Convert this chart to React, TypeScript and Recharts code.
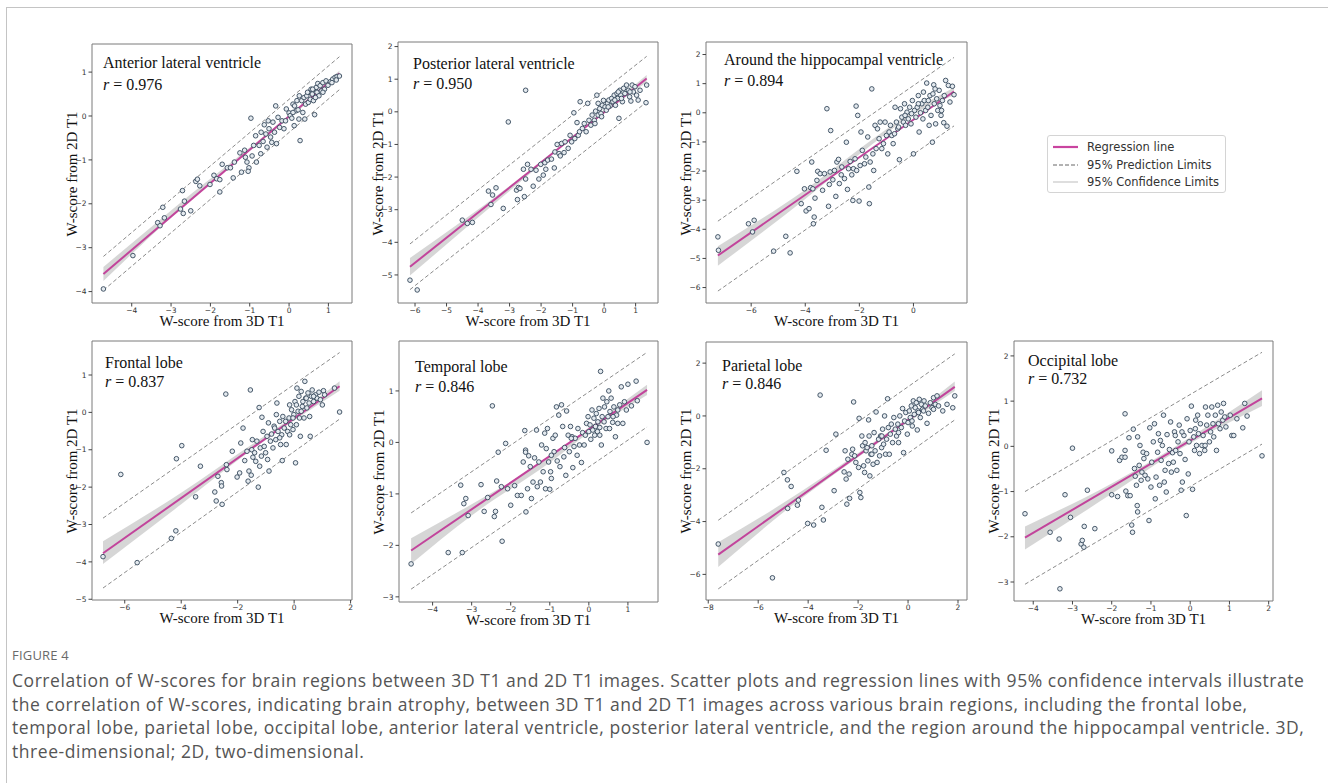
import React from "react";
import {
  ComposedChart,
  Scatter,
  Line,
  Area,
  XAxis,
  YAxis,
  ReferenceArea,
} from "recharts";

type Pt = [number, number];
interface FitRow {
  x: number;
  fit: number;
  lo: number;
  hi: number;
}
interface BandRow {
  x: number;
  band: [number, number];
}

// ---- Anterior lateral ventricle ----
const antPts: Pt[] = [
  [-4.72, -3.94], [-3.97, -3.18], [-3.34, -2.43], [-3.28, -2.5], [-3.17, -2.32], [-3.21, -2.08],
  [-2.76, -2.12], [-2.69, -2.22], [-2.66, -1.94], [-2.5, -2.16], [-2.71, -1.7], [-2.37, -1.49],
  [-2.33, -1.44], [-2.27, -1.59], [-2.01, -1.56], [-1.91, -1.35], [-1.84, -1.43], [-1.76, -1.45],
  [-1.76, -1.73], [-1.7, -1.1], [-1.57, -1.18], [-1.49, -1.18], [-1.42, -1.41], [-1.39, -1.05],
  [-1.25, -0.84], [-1.21, -1.28], [-1.13, -0.78], [-1.11, -0.94], [-1.02, -1.18], [-1.04, -1.26],
  [-1.07, -1.05], [-0.97, -0.05], [-0.94, -0.91], [-0.9, -0.67], [-0.85, -0.45], [-0.83, -1.05],
  [-0.76, -0.67], [-0.72, -0.86], [-0.71, -0.37], [-0.66, -0.58], [-0.63, -0.2], [-0.59, -0.41],
  [-0.56, -0.71], [-0.53, -0.11], [-0.51, -0.29], [-0.47, -0.48], [-0.44, -0.6], [-0.41, -0.14],
  [-0.37, -0.37], [-0.34, 0.23], [-0.32, -0.63], [-0.28, -0.03], [-0.24, -0.26], [-0.18, -0.11],
  [-0.13, -0.29], [-0.07, 0.16], [0.0, 0.07], [0.03, 0.01], [0.07, -0.05], [0.1, 0.27],
  [0.14, 0.23], [0.18, 0.12], [0.2, 0.35], [0.25, -0.07], [0.28, -0.56], [0.32, 0.35],
  [0.35, 0.08], [0.38, 0.42], [0.42, 0.27], [0.45, 0.46], [0.49, 0.31], [0.51, 0.54],
  [0.54, 0.38], [0.56, 0.61], [0.59, 0.5], [0.62, 0.35], [0.65, 0.03], [0.66, 0.61],
  [0.69, 0.65], [0.71, 0.54], [0.73, 0.74], [0.76, 0.46], [0.79, 0.69], [0.82, 0.57],
  [0.86, 0.76], [0.9, 0.61], [0.94, 0.8], [0.99, 0.7], [1.05, 0.78], [1.11, 0.84],
  [1.17, 0.88], [1.22, 0.9], [1.28, 0.91], [1.2, 0.82], [1.09, 0.76], [0.6, 0.61],
  [0.47, 0.54], [0.26, 0.46], [0.1, 0.08], [-0.09, -0.11], [0.23, 0.14], [0.67, 0.42],
  [0.86, 0.54], [0.4, -0.07], [0.13, -0.22],
];
const antFit: FitRow[] = [
  { x: -4.72, fit: -3.6, lo: -3.97, hi: -3.2 },
  { x: 1.28, fit: 0.97, lo: 0.6, hi: 1.35 },
];
const antBand: BandRow[] = [
  { x: -4.72, band: [-3.76, -3.44] },
  { x: -3, band: [-2.31, -2.15] },
  { x: 0, band: [-0.05, 0.02] },
  { x: 1.28, band: [0.91, 1.03] },
];

// ---- Posterior lateral ventricle ----
const postPts: Pt[] = [
  [-6.16, -5.16], [-5.93, -5.46], [-4.5, -3.32], [-4.34, -3.42], [-4.18, -3.39], [-3.59, -2.84],
  [-3.67, -2.43], [-3.54, -2.55], [-3.43, -2.33], [-3.2, -2.96], [-3.04, -0.31], [-2.49, 0.66],
  [-2.78, -2.4], [-2.72, -2.32], [-2.67, -2.35], [-2.75, -2.69], [-2.56, -1.76], [-2.53, -2.6],
  [-2.49, -2.06], [-2.43, -1.61], [-2.32, -1.76], [-2.25, -2.28], [-2.16, -1.79], [-2.07, -2.06],
  [-2.01, -1.61], [-1.93, -1.94], [-1.88, -1.56], [-1.85, -1.76], [-1.79, -1.48], [-1.67, -1.45],
  [-1.58, -1.72], [-1.56, -1.23], [-1.49, -1.0], [-1.43, -1.28], [-1.39, -1.35], [-1.35, -0.97],
  [-1.27, -1.25], [-1.24, -0.92], [-1.14, -1.12], [-1.08, -0.72], [-1.03, -0.92], [-0.96, -0.03],
  [-0.93, -0.82], [-0.86, -0.33], [-0.82, -0.72], [-0.78, -0.61], [-0.76, 0.31], [-0.69, -0.51],
  [-0.63, -0.36], [-0.57, -0.61], [-0.52, 0.26], [-0.48, -0.26], [-0.42, -0.41], [-0.38, -0.1],
  [-0.31, -0.26], [-0.27, 0.02], [-0.23, 0.51], [-0.19, -0.1], [-0.14, 0.1], [-0.1, -0.05],
  [-0.06, 0.2], [-0.02, 0.35], [0.03, 0.15], [0.07, 0.05], [0.11, 0.26], [0.15, 0.36],
  [0.19, 0.18], [0.24, 0.41], [0.28, 0.31], [0.32, 0.51], [0.36, 0.2], [0.41, 0.56],
  [0.43, 0.41], [0.47, -0.2], [0.5, 0.66], [0.53, 0.51], [0.58, 0.31], [0.62, 0.72],
  [0.66, 0.56], [0.71, 0.82], [0.77, 0.66], [0.81, 0.46], [0.85, 0.33], [0.89, 0.82],
  [0.93, 0.61], [0.98, 0.77], [1.03, 0.51], [1.08, 0.36], [1.14, 0.66], [1.35, 0.82],
  [1.33, 0.28], [0.55, 0.41], [0.34, 0.36], [0.13, 0.15], [-0.08, -0.15], [-0.29, -0.36],
  [-0.19, 0.26], [0.45, 0.61], [0.82, 0.61],
];
const postFit: FitRow[] = [
  { x: -6.16, fit: -4.75, lo: -5.45, hi: -4.05 },
  { x: 1.35, fit: 1.02, lo: 0.3, hi: 1.7 },
];
const postBand: BandRow[] = [
  { x: -6.16, band: [-5.02, -4.48] },
  { x: -3, band: [-2.43, -2.27] },
  { x: 0, band: [-0.03, 0.05] },
  { x: 1.35, band: [0.91, 1.13] },
];

// ---- Around the hippocampal ventricle ----
const hipPts: Pt[] = [
  [-7.23, -4.26], [-7.21, -4.72], [-6.1, -3.81], [-5.95, -4.09], [-5.89, -3.69], [-5.17, -4.75],
  [-4.72, -4.24], [-4.56, -4.81], [-4.31, -2.01], [-4.15, -3.12], [-4.03, -2.61], [-3.97, -3.37],
  [-3.86, -3.29], [-3.8, -2.57], [-3.76, -1.69], [-3.72, -2.61], [-3.7, -3.81], [-3.67, -3.58],
  [-3.64, -2.93], [-3.57, -2.32], [-3.54, -2.01], [-3.45, -2.09], [-3.36, -2.66], [-3.29, -2.09],
  [-3.2, 0.14], [-3.14, -3.21], [-3.11, -2.46], [-3.08, -2.03], [-3.06, -0.61], [-2.98, -2.3],
  [-2.92, -1.98], [-2.87, -2.87], [-2.83, -1.69], [-2.77, -1.6], [-2.74, -2.43], [-2.67, -2.13],
  [-2.65, -1.86], [-2.55, -2.26], [-2.48, -1.01], [-2.44, -2.63], [-2.4, -1.92], [-2.34, -1.67],
  [-2.28, -2.13], [-2.24, -3.01], [-2.22, -1.92], [-2.16, -1.58], [-2.12, 0.23], [-2.1, -1.98],
  [-2.06, -0.09], [-2.01, -3.03], [-1.97, -1.81], [-1.94, -0.66], [-1.89, -1.29], [-1.81, -1.75],
  [-1.76, -1.52], [-1.69, -0.83], [-1.65, -2.55], [-1.63, -3.12], [-1.6, -1.69], [-1.54, 0.82],
  [-1.5, -1.41], [-1.47, -1.98], [-1.42, -0.43], [-1.38, -1.23], [-1.33, -0.55], [-1.27, -0.89],
  [-1.23, -0.32], [-1.17, -1.23], [-1.11, -1.06], [-1.05, -0.32], [-1.0, -0.78], [-0.95, -1.41],
  [-0.9, -0.66], [-0.85, -0.43], [-0.8, -0.78], [-0.75, -1.06], [-0.7, -0.72], [-0.68, 0.19],
  [-0.63, -0.32], [-0.58, -0.55], [-0.52, -1.61], [-0.48, 0.14], [-0.43, -0.15], [-0.37, -0.32],
  [-0.33, 0.31], [-0.29, -0.43], [-0.24, 0.02], [-0.19, -0.21], [-0.14, 0.19], [-0.09, -0.38],
  [0.0, -1.41], [-0.04, 0.42], [0.04, 0.08], [0.09, -0.15], [0.14, 0.19], [0.18, 0.59],
  [0.21, -0.66], [0.26, 0.0], [0.31, 0.31], [0.35, -0.21], [0.4, 0.42], [0.45, 0.08],
  [0.49, 1.02], [0.53, 0.19], [0.58, -0.43], [0.61, 0.59], [0.65, -0.09], [0.7, -1.01],
  [0.72, 0.65], [0.75, 0.96], [0.77, 0.31], [0.82, -0.38], [0.86, 0.48], [0.9, 0.08],
  [0.95, 0.77], [0.98, 0.25], [1.02, -0.09], [1.07, 0.42], [1.12, -0.34], [1.14, 0.59],
  [1.19, 1.11], [1.24, -0.46], [1.29, 0.94], [1.35, 0.37], [1.44, 0.91], [1.5, 0.62],
  [0.8, 0.82], [0.55, 0.42], [0.37, 0.71], [0.18, 0.31], [-0.07, -0.03], [-0.31, -0.09],
  [-0.55, -0.49], [1.04, 0.08],
];
const hipFit: FitRow[] = [
  { x: -7.23, fit: -4.9, lo: -6.12, hi: -3.72 },
  { x: 1.5, fit: 0.73, lo: -0.45, hi: 1.9 },
];
const hipBand: BandRow[] = [
  { x: -7.23, band: [-5.25, -4.58] },
  { x: -4, band: [-2.96, -2.64] },
  { x: -1.5, band: [-1.06, -0.9] },
  { x: 0, band: [-0.06, 0.08] },
  { x: 1.5, band: [0.6, 0.87] },
];

// ---- Frontal lobe ----
const froPts: Pt[] = [
  [-6.77, -3.86], [-6.14, -1.66], [-5.56, -4.02], [-4.35, -3.37], [-4.19, -3.17], [-4.17, -1.24],
  [-3.98, -0.89], [-3.49, -2.26], [-3.32, -1.44], [-2.81, -2.13], [-2.76, -2.37], [-2.7, -1.71],
  [-2.58, -1.88], [-2.57, -1.97], [-2.55, -2.46], [-2.42, 0.49], [-2.4, -1.4], [-2.38, -1.53],
  [-2.19, -1.04], [-2.02, -1.73], [-1.93, -1.62], [-1.89, -0.82], [-1.81, -0.42], [-1.75, -1.29],
  [-1.67, -1.04], [-1.63, -1.84], [-1.6, -1.57], [-1.55, 0.6], [-1.52, -1.68], [-1.5, -1.0],
  [-1.48, -0.73], [-1.46, -1.2], [-1.4, -1.08], [-1.36, -1.31], [-1.32, -0.77], [-1.27, -2.0],
  [-1.24, 0.13], [-1.22, -1.44], [-1.2, -0.95], [-1.16, -1.17], [-1.14, -0.13], [-1.1, -0.51],
  [-1.06, -0.91], [-1.01, -1.08], [-0.96, -0.64], [-0.94, -1.26], [-0.91, -0.28], [-0.89, -1.57],
  [-0.84, -0.77], [-0.8, -0.58], [-0.75, -0.95], [-0.71, -0.37], [-0.65, -0.73], [-0.63, -0.06],
  [-0.61, 0.25], [-0.57, -0.51], [-0.51, -0.24], [-0.48, -0.86], [-0.44, -0.6], [-0.42, -1.29],
  [-0.4, -0.11], [-0.35, -0.42], [-0.3, -0.24], [-0.28, -0.86], [-0.23, -0.51], [-0.18, -0.15],
  [-0.16, 0.2], [-0.12, -0.33], [-0.09, 0.07], [-0.04, -0.46], [-0.01, -0.06], [0.03, 0.29],
  [0.05, -1.35], [0.08, -0.33], [0.1, 0.65], [0.14, 0.03], [0.17, 0.43], [0.19, -0.15],
  [0.22, -0.64], [0.25, 0.56], [0.29, 0.16], [0.31, 0.29], [0.35, -0.15], [0.38, 0.83],
  [0.41, 0.38], [0.45, 0.12], [0.49, 0.52], [0.53, 0.25], [0.55, -0.11], [0.57, -0.64],
  [0.61, 0.43], [0.64, 0.6], [0.69, 0.29], [0.76, 0.47], [0.81, 0.38], [0.88, 0.54],
  [0.93, 0.34], [1.0, 0.2], [1.04, 0.58], [1.08, 0.47], [1.43, 0.65], [1.61, 0.01],
  [0.08, 0.2], [0.25, 0.03], [-0.04, -0.15], [0.43, 0.38], [-0.16, -0.6], [-0.51, -0.68],
  [-0.69, -0.42], [0.69, 0.43],
];
const froFit: FitRow[] = [
  { x: -6.77, fit: -3.77, lo: -4.7, hi: -2.83 },
  { x: 1.61, fit: 0.7, lo: -0.18, hi: 1.6 },
];
const froBand: BandRow[] = [
  { x: -6.77, band: [-4.06, -3.45] },
  { x: -4, band: [-2.46, -2.15] },
  { x: -1.5, band: [-1.0, -0.86] },
  { x: 0, band: [-0.22, -0.1] },
  { x: 1.61, band: [0.58, 0.83] },
];

// ---- Temporal lobe ----
const temPts: Pt[] = [
  [-4.55, -2.36], [-3.6, -2.14], [-3.24, -2.14], [-3.28, -0.83], [-3.2, -1.19], [-3.15, -1.09],
  [-3.09, -1.42], [-2.76, -0.82], [-2.68, -1.34], [-2.59, -1.07], [-2.47, 0.71], [-2.42, -1.44],
  [-2.39, -1.34], [-2.36, -0.75], [-2.32, -0.19], [-2.24, -0.86], [-2.22, -1.92], [-2.13, -0.02],
  [-2.08, -0.9], [-2.0, -1.22], [-1.9, -0.84], [-1.83, -1.03], [-1.73, -1.03], [-1.68, -0.38],
  [-1.64, 0.23], [-1.62, -0.15], [-1.62, -0.19], [-1.61, -1.35], [-1.57, -0.9], [-1.54, -0.26],
  [-1.5, -0.47], [-1.47, -1.09], [-1.43, -0.77], [-1.39, -0.3], [-1.34, 0.24], [-1.32, -0.86],
  [-1.28, -0.38], [-1.24, -0.77], [-1.21, -0.05], [-1.17, -0.57], [-1.13, 0.18], [-1.11, -0.9],
  [-1.09, -0.12], [-1.06, 0.27], [-1.03, -0.38], [-1.0, -0.91], [-0.98, -0.57], [-0.96, -0.7],
  [-0.92, 0.08], [-0.89, -0.18], [-0.86, 0.14], [-0.83, 0.69], [-0.81, -0.36], [-0.77, 0.53],
  [-0.74, -0.47], [-0.7, 0.73], [-0.67, 0.31], [-0.64, -0.28], [-0.62, -0.1], [-0.59, -0.64],
  [-0.57, 0.61], [-0.53, 0.14], [-0.5, -0.18], [-0.47, 0.31], [-0.43, 0.11], [-0.41, -0.49],
  [-0.38, -0.08], [-0.35, 0.08], [-0.3, -0.25], [-0.28, 0.27], [-0.24, -0.05], [-0.19, -0.39],
  [-0.16, 0.19], [-0.12, -0.05], [-0.09, 0.14], [-0.06, 0.37], [-0.02, 0.5], [0.0, 0.21],
  [0.03, 0.34], [0.05, 0.06], [0.08, 0.63], [0.1, 0.24], [0.13, 0.47], [0.17, 0.31],
  [0.19, 0.56], [0.22, 0.21], [0.23, 0.4], [0.26, 0.66], [0.28, 0.29], [0.3, 1.38],
  [0.32, -0.05], [0.34, 0.5], [0.36, 0.86], [0.39, 0.4], [0.4, 0.69], [0.44, 0.27],
  [0.46, 0.79], [0.49, 0.5], [0.51, 1.0], [0.54, 0.6], [0.57, 0.86], [0.61, 0.39],
  [0.64, 0.69], [0.68, 0.11], [0.71, 0.53], [0.74, 0.37], [0.79, 0.73], [0.83, 1.08],
  [0.87, 0.37], [0.91, 0.79], [0.96, 0.63], [1.0, 1.13], [1.09, 0.71], [1.21, 1.19],
  [1.24, 0.81], [1.49, 0.0], [0.74, 0.63], [0.53, 0.27], [0.15, 0.14], [0.28, 0.14],
  [0.62, 0.5], [-0.96, -0.25], [-0.45, 0.08],
];
const temFit: FitRow[] = [
  { x: -4.55, fit: -2.1, lo: -2.85, hi: -1.37 },
  { x: 1.49, fit: 1.02, lo: 0.3, hi: 1.75 },
];
const temBand: BandRow[] = [
  { x: -4.55, band: [-2.36, -1.86] },
  { x: -3, band: [-1.42, -1.2] },
  { x: -1, band: [-0.39, -0.28] },
  { x: 0, band: [0.19, 0.29] },
  { x: 1.49, band: [0.92, 1.12] },
];

// ---- Parietal lobe ----
const parPts: Pt[] = [
  [-7.6, -4.85], [-5.43, -6.13], [-4.97, -2.14], [-4.83, -2.42], [-4.82, -3.5], [-4.68, -2.67],
  [-4.43, -3.38], [-4.39, -3.19], [-4.02, -4.07], [-3.78, -4.13], [-3.52, 0.79], [-3.45, -3.46],
  [-3.39, -3.94], [-3.28, -1.3], [-2.96, -2.83], [-2.89, -0.69], [-2.56, -2.12], [-2.52, -1.32],
  [-2.48, -2.39], [-2.45, -3.34], [-2.41, -1.64], [-2.36, -2.2], [-2.34, -3.12], [-2.25, -1.45],
  [-2.22, -1.26], [-2.18, 0.53], [-2.14, -1.51], [-2.09, -1.76], [-1.98, -1.95], [-1.96, -0.09],
  [-1.93, -2.9], [-1.89, -3.09], [-1.85, -0.76], [-1.82, -1.13], [-1.78, -1.89], [-1.74, -2.14],
  [-1.72, -1.01], [-1.68, -1.32], [-1.64, -1.2], [-1.61, -1.7], [-1.58, -0.15], [-1.56, -0.76],
  [-1.53, -2.27], [-1.49, -1.45], [-1.45, -1.13], [-1.4, -1.83], [-1.36, -0.63], [-1.32, -1.32],
  [-1.28, 0.15], [-1.24, -1.76], [-1.18, -0.88], [-1.14, -1.51], [-1.1, -0.76], [-1.06, -1.2],
  [-1.02, -0.5], [-0.98, -1.07], [-0.94, 0.0], [-0.9, -1.45], [-0.86, -0.88], [-0.82, 0.65],
  [-0.79, -0.44], [-0.75, -1.45], [-0.71, -0.69], [-0.67, -0.31], [-0.62, -1.01], [-0.57, -0.06],
  [-0.51, -0.5], [-0.46, -0.76], [-0.41, -0.31], [-0.38, -1.01], [-0.33, 0.0], [-0.27, -0.44],
  [-0.22, 0.28], [-0.18, -1.39], [-0.14, -0.19], [-0.09, 0.13], [-0.03, -0.69], [0.0, -0.25],
  [0.05, 0.19], [0.09, -0.06], [0.13, 0.38], [0.17, -0.38], [0.21, 0.57], [0.25, 0.06],
  [0.29, 0.31], [0.33, 0.5], [0.37, -0.53], [0.4, 0.19], [0.45, 0.63], [0.49, -0.06],
  [0.53, 0.44], [0.58, 0.25], [0.64, 0.57], [0.69, 0.38], [0.76, -0.28], [0.82, 0.1],
  [0.89, 0.5], [0.96, 0.31], [1.02, 0.69], [1.09, 0.44], [1.16, 0.76], [1.22, 0.38],
  [1.39, 0.19], [1.56, 0.44], [1.79, 0.31], [1.87, 0.76], [0.42, 0.13], [0.16, -0.19],
  [0.62, 0.19], [-0.38, -0.63], [-1.05, -0.76], [-1.45, -1.45], [1.02, 0.25],
];
const parFit: FitRow[] = [
  { x: -7.6, fit: -5.25, lo: -6.55, hi: -3.95 },
  { x: 1.87, fit: 1.1, lo: -0.15, hi: 2.35 },
];
const parBand: BandRow[] = [
  { x: -7.6, band: [-5.72, -4.78] },
  { x: -5, band: [-3.66, -3.3] },
  { x: -2, band: [-1.56, -1.4] },
  { x: 0, band: [-0.25, -0.07] },
  { x: 1.87, band: [0.94, 1.3] },
];

// ---- Occipital lobe ----
const occPts: Pt[] = [
  [-4.21, -1.49], [-3.57, -1.9], [-3.32, -3.15], [-3.34, -2.05], [-3.19, -1.07], [-3.05, -1.57],
  [-3.0, -0.04], [-2.78, -2.16], [-2.75, -2.08], [-2.71, -2.23], [-2.7, -1.77], [-2.62, -0.97],
  [-2.43, -1.82], [-2.0, -0.1], [-2.0, -1.07], [-1.85, -1.11], [-1.8, -0.31], [-1.74, -0.24],
  [-1.66, 0.72], [-1.66, -0.09], [-1.66, -0.24], [-1.64, -0.99], [-1.59, -1.09], [-1.56, 0.19],
  [-1.53, -1.09], [-1.49, -1.74], [-1.47, -1.9], [-1.45, 0.38], [-1.42, -0.49], [-1.4, -0.66],
  [-1.37, -0.86], [-1.35, -1.31], [-1.34, -1.45], [-1.34, 0.21], [-1.3, -0.42], [-1.28, 0.02],
  [-1.25, -0.75], [-1.23, -0.57], [-1.2, -0.13], [-1.18, -0.27], [-1.15, -0.64], [-1.11, -0.16],
  [-1.08, -0.72], [-1.05, -1.64], [-1.03, 0.41], [-1.0, -0.9], [-0.98, -0.35], [-0.94, 0.1],
  [-0.91, 0.5], [-0.89, -1.16], [-0.87, -0.68], [-0.83, -0.13], [-0.81, 0.28], [-0.78, -0.86],
  [-0.76, 0.13], [-0.74, -0.31], [-0.71, 0.02], [-0.68, 0.69], [-0.66, -0.79], [-0.64, -0.53],
  [-0.61, -1.01], [-0.59, 0.26], [-0.55, -0.38], [-0.53, -0.07], [-0.5, 0.54], [-0.48, -0.57],
  [-0.45, -0.14], [-0.43, -0.35], [-0.4, 0.32], [-0.37, -0.09], [-0.34, -0.53], [-0.31, 0.1],
  [-0.28, 0.47], [-0.26, -0.16], [-0.23, -0.97], [-0.2, -0.79], [-0.16, 0.24], [-0.13, -0.29],
  [-0.1, -1.53], [-0.08, 0.61], [-0.05, -0.61], [-0.03, 0.1], [0.0, 0.35], [0.03, 0.89],
  [0.06, -0.95], [0.09, 0.21], [0.11, -0.09], [0.14, 0.58], [0.16, 0.02], [0.19, 0.69],
  [0.21, 0.28], [0.24, -0.16], [0.26, 0.5], [0.3, 0.02], [0.33, 0.24], [0.37, -0.09],
  [0.39, 0.87], [0.42, 0.47], [0.45, 0.69], [0.49, 0.1], [0.52, 0.32], [0.55, 0.87],
  [0.58, 0.5], [0.6, 0.21], [0.64, 0.69], [0.67, -0.09], [0.7, 0.91], [0.72, 0.5],
  [0.76, 0.39], [0.79, 0.76], [0.83, 0.58], [0.85, 0.95], [0.88, 0.65], [0.91, 0.43],
  [1.02, 0.69], [1.06, 0.24], [1.19, 0.61], [1.34, 0.41], [1.39, 0.95], [1.45, 0.67],
  [1.83, -0.21], [1.11, 0.24], [0.38, 0.02], [0.13, 0.39], [-0.38, 0.24], [-0.21, 0.32],
];
const occFit: FitRow[] = [
  { x: -4.21, fit: -2.02, lo: -3.05, hi: -1.0 },
  { x: 1.83, fit: 1.06, lo: 0.05, hi: 2.08 },
];
const occBand: BandRow[] = [
  { x: -4.21, band: [-2.28, -1.77] },
  { x: -2, band: [-1.05, -0.82] },
  { x: -0.5, band: [-0.19, -0.07] },
  { x: 1.83, band: [0.89, 1.24] },
];

const YW = 24;
const XH = 14;
const serif = "'Liberation Serif', 'Times New Roman', serif";
const sans = "'DejaVu Sans', sans-serif";

const fmt = (v: number) => (v < 0 ? `\u2212${-v}` : `${v}`);

const merge = (fit: FitRow[], band: BandRow[]) => {
  const rows = new Map<number, any>();
  [...band, ...fit].forEach((r) => rows.set(r.x, { ...(rows.get(r.x) || {}), ...r }));
  return [...rows.values()].sort((a, b) => a.x - b.x);
};

const Ring = (p: any) => (
  <circle cx={p.cx} cy={p.cy} r={2.3} fill="#e4eaef" stroke="#34475a" strokeWidth={0.9} />
);

interface PanelCfg {
  left: number;
  top: number;
  w: number;
  h: number;
  xDom: [number, number];
  yDom: [number, number];
  xTicks: number[];
  yTicks: number[];
  pts: Pt[];
  fit: FitRow[];
  band: BandRow[];
  title: string;
  r: string;
  tx: number;
  ty: number;
  ry: number;
}

const panels: PanelCfg[] = [
  {
    left: 92, top: 44, w: 260, h: 259, xDom: [-5.01, 1.6], yDom: [-4.26, 1.64],
    xTicks: [-4, -3, -2, -1, 0, 1], yTicks: [-4, -3, -2, -1, 0, 1],
    pts: antPts, fit: antFit, band: antBand,
    title: "Anterior lateral ventricle", r: "0.976", tx: 11, ty: 19, ry: 41,
  },
  {
    left: 398, top: 42, w: 260, h: 261, xDom: [-6.54, 1.71], yDom: [-5.86, 2.14],
    xTicks: [-6, -5, -4, -3, -2, -1, 0, 1], yTicks: [-5, -4, -3, -2, -1, 0, 1, 2],
    pts: postPts, fit: postFit, band: postBand,
    title: "Posterior lateral ventricle", r: "0.950", tx: 15, ty: 22, ry: 42,
  },
  {
    left: 706, top: 42, w: 261, h: 261, xDom: [-7.67, 1.98], yDom: [-6.53, 2.43],
    xTicks: [-6, -4, -2, 0], yTicks: [-6, -5, -4, -3, -2, -1, 0, 1, 2],
    pts: hipPts, fit: hipFit, band: hipBand,
    title: "Around the hippocampal ventricle", r: "0.894", tx: 18, ty: 18, ry: 39,
  },
  {
    left: 92, top: 341, w: 260, h: 259, xDom: [-7.16, 2.05], yDom: [-5.02, 1.91],
    xTicks: [-6, -4, -2, 0, 2], yTicks: [-5, -4, -3, -2, -1, 0, 1],
    pts: froPts, fit: froFit, band: froBand,
    title: "Frontal lobe", r: "0.837", tx: 13, ty: 22, ry: 41,
  },
  {
    left: 399, top: 341, w: 259, h: 261, xDom: [-4.86, 1.77], yDom: [-3.1, 1.97],
    xTicks: [-4, -3, -2, -1, 0, 1], yTicks: [-3, -2, -1, 0, 1],
    pts: temPts, fit: temFit, band: temBand,
    title: "Temporal lobe", r: "0.846", tx: 16, ty: 26, ry: 46,
  },
  {
    left: 706, top: 342, w: 261, h: 258, xDom: [-8.09, 2.36], yDom: [-6.97, 2.8],
    xTicks: [-8, -6, -4, -2, 0, 2], yTicks: [-6, -4, -2, 0, 2],
    pts: parPts, fit: parFit, band: parBand,
    title: "Parietal lobe", r: "0.846", tx: 16, ty: 24, ry: 42,
  },
  {
    left: 1014, top: 341, w: 259, h: 260, xDom: [-4.49, 2.11], yDom: [-3.42, 2.33],
    xTicks: [-4, -3, -2, -1, 0, 1, 2], yTicks: [-3, -2, -1, 0, 1, 2],
    pts: occPts, fit: occFit, band: occBand,
    title: "Occipital lobe", r: "0.732", tx: 14, ty: 20, ry: 38,
  },
];

function Panel({ c }: { c: PanelCfg }) {
  const data = merge(c.fit, c.band);
  const dots = c.pts.map(([x, y]) => ({ x, y }));
  const tick = { fontSize: 7.5, fill: "#333", fontFamily: sans };
  return (
    <>
      <div style={{ position: "absolute", left: c.left - YW, top: c.top - 1 }}>
        <ComposedChart
          width={c.w + YW + 1}
          height={c.h + XH + 1}
          data={data}
          margin={{ top: 1, right: 1, left: 0, bottom: 0 }}
        >
          <XAxis
            type="number"
            dataKey="x"
            domain={c.xDom}
            ticks={c.xTicks}
            allowDataOverflow
            interval={0}
            height={XH}
            axisLine={false}
            tickLine={{ stroke: "#444" }}
            tickSize={3.5}
            tickMargin={1}
            tick={tick}
            tickFormatter={fmt}
          />
          <YAxis
            type="number"
            domain={c.yDom}
            ticks={c.yTicks}
            allowDataOverflow
            interval={0}
            width={YW}
            axisLine={false}
            tickLine={{ stroke: "#444" }}
            tickSize={3.5}
            tickMargin={2}
            tick={tick}
            tickFormatter={fmt}
          />
          <Area
            dataKey="band"
            type="monotone"
            stroke="none"
            fill="#cfcfcf"
            fillOpacity={0.85}
            connectNulls
            isAnimationActive={false}
          />
          <Line dataKey="hi" stroke="#7d7d7d" strokeWidth={0.9} strokeDasharray="4 2.5" dot={false} activeDot={false} connectNulls isAnimationActive={false} />
          <Line dataKey="lo" stroke="#7d7d7d" strokeWidth={0.9} strokeDasharray="4 2.5" dot={false} activeDot={false} connectNulls isAnimationActive={false} />
          <Scatter data={dots} dataKey="y" shape={Ring} isAnimationActive={false} />
          <Line dataKey="fit" stroke="#c2449b" strokeWidth={2} dot={false} activeDot={false} connectNulls isAnimationActive={false} />
          <ReferenceArea
            x1={c.xDom[0]}
            x2={c.xDom[1]}
            y1={c.yDom[0]}
            y2={c.yDom[1]}
            fill="none"
            stroke="#7a7a7a"
            strokeWidth={1}
            ifOverflow="visible"
          />
        </ComposedChart>
      </div>
      <div style={{ position: "absolute", left: c.left + c.tx, top: c.top + c.ty - 10, fontFamily: serif, fontSize: 16, lineHeight: "20px", color: "#111", whiteSpace: "nowrap" }}>
        {c.title}
      </div>
      <div style={{ position: "absolute", left: c.left + c.tx, top: c.top + c.ry - 10, fontFamily: serif, fontSize: 16, lineHeight: "20px", color: "#111", whiteSpace: "nowrap" }}>
        <i>r</i> = {c.r}
      </div>
      <div style={{ position: "absolute", left: c.left + c.w / 2, top: c.top + c.h + 18, transform: "translate(-50%, -50%)", fontFamily: serif, fontSize: 15, color: "#111", whiteSpace: "nowrap" }}>
        W-score from 3D T1
      </div>
      <div style={{ position: "absolute", left: c.left - 20, top: c.top + c.h / 2, transform: "translate(-50%, -50%) rotate(-90deg)", fontFamily: serif, fontSize: 15, color: "#111", whiteSpace: "nowrap" }}>
        W-score from 2D T1
      </div>
    </>
  );
}

const legendItems = [
  { label: "Regression line", color: "#c9449f", dash: "", width: 2.2 },
  { label: "95% Prediction Limits", color: "#666", dash: "4 2", width: 1 },
  { label: "95% Confidence Limits", color: "#c8c8c8", dash: "", width: 1.2 },
];

const captionLines = [
  "Correlation of W-scores for brain regions between 3D T1 and 2D T1 images. Scatter plots and regression lines with 95% confidence intervals illustrate",
  "the correlation of W-scores, indicating brain atrophy, between 3D T1 and 2D T1 images across various brain regions, including the frontal lobe,",
  "temporal lobe, parietal lobe, occipital lobe, anterior lateral ventricle, posterior lateral ventricle, and the region around the hippocampal ventricle. 3D,",
  "three-dimensional; 2D, two-dimensional.",
];

export default function App() {
  return (
    <div style={{ position: "absolute", left: 0, top: 0, width: 1328, height: 783, background: "#fff", overflow: "hidden" }}>
      <div style={{ position: "absolute", left: 6, top: 7, width: 1400, height: 900, border: "1px solid #c4c4c4" }} />
      {panels.map((c) => (
        <Panel key={c.title} c={c} />
      ))}
      <div style={{ position: "absolute", left: 1047, top: 135, width: 177, height: 56, border: "1px solid #d4d4d4", borderRadius: 3, background: "#fff" }}>
        {legendItems.map((it, i) => (
          <div key={it.label} style={{ position: "absolute", left: 4, top: 3 + i * 17.5, height: 16, display: "flex", alignItems: "center" }}>
            <svg width={27} height={16}>
              <line x1={1} x2={26} y1={8} y2={8} stroke={it.color} strokeWidth={it.width} strokeDasharray={it.dash} />
            </svg>
            <span style={{ marginLeft: 8, fontFamily: sans, fontSize: 11.5, color: "#333", whiteSpace: "nowrap" }}>{it.label}</span>
          </div>
        ))}
      </div>
      <div style={{ position: "absolute", left: 12, top: 646, fontFamily: "'Open Sans', sans-serif", fontSize: 13, color: "#6a6a6a", letterSpacing: 0.2 }}>
        FIGURE 4
      </div>
      {captionLines.map((t, i) => (
        <div key={i} style={{ position: "absolute", left: 12, top: 669 + i * 23.5, fontFamily: "'Open Sans', sans-serif", fontSize: 17.5, lineHeight: "23px", letterSpacing: 0.55, color: "#555", whiteSpace: "nowrap" }}>
          {t}
        </div>
      ))}
    </div>
  );
}
